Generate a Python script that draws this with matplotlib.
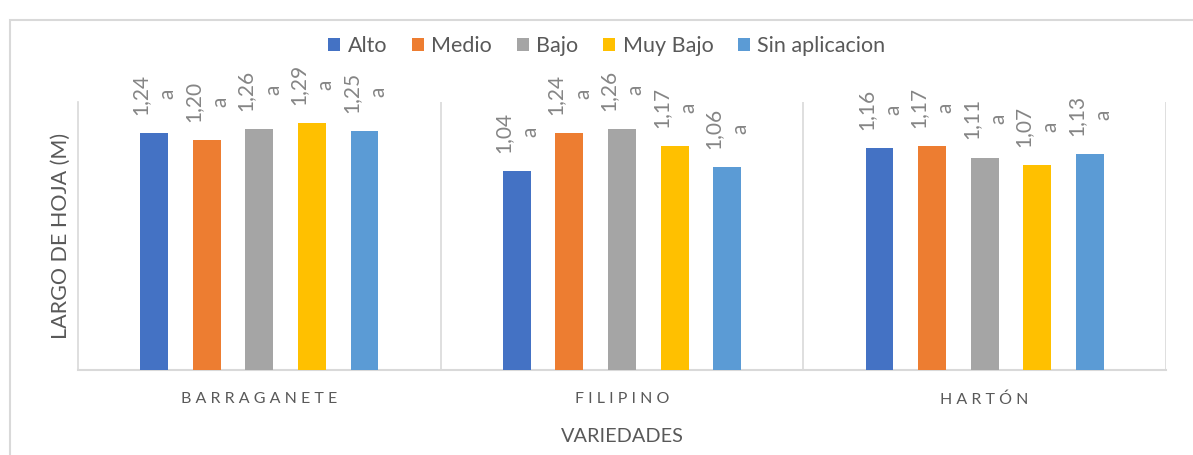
import matplotlib
matplotlib.use("Agg")
import matplotlib.pyplot as plt
import numpy as np
from matplotlib.patches import Rectangle

plt.rcParams['font.family'] = ['Lato', 'DejaVu Sans']

categories = ["BARRAGANETE", "FILIPINO", "HARTÓN"]
series_names = ["Alto", "Medio", "Bajo", "Muy Bajo", "Sin aplicacion"]
alto = [1.24, 1.04, 1.16]
medio = [1.20, 1.24, 1.17]
bajo = [1.26, 1.26, 1.11]
muy_bajo = [1.29, 1.17, 1.07]
sin_aplicacion = [1.25, 1.06, 1.13]
letters = ["a", "a", "a"]
colors = ["#4472C4", "#ED7D31", "#A5A5A5", "#FFC000", "#5B9BD5"]

series = [alto, medio, bajo, muy_bajo, sin_aplicacion]

W, H = 1193, 455
fig = plt.figure(figsize=(W / 100, H / 100), dpi=100)
ax = fig.add_axes([78 / W, (H - 370) / H, (1166 - 78) / W, (370 - 102) / H])

# outer chart border
fig.patches.append(Rectangle((10 / W, -0.05), 1.2, (H - 20) / H + 0.05,
                             transform=fig.transFigure, fill=False,
                             edgecolor="#D9D9D9", linewidth=1.5))

x = np.arange(len(categories))
step = 0.145
width = 0.077
for i, (name, vals, c) in enumerate(zip(series_names, series, colors)):
    pos = x + (i - 2) * step
    ax.bar(pos, vals, width=width, color=c, label=name, zorder=3)
    for p, v, l in zip(pos, vals, letters):
        ax.annotate(f"{v:.2f}".replace(".", ",") + "\n" + l, (p, v),
                    xytext=(0, 13), textcoords="offset points",
                    rotation=90, ha="center", va="bottom",
                    multialignment="center", fontsize=15,
                    color="#858585", linespacing=1.45)

ax.set_xlim(-0.5, 2.5)
ax.set_ylim(0, 1.4)
ax.set_yticks([])
ax.set_xticks(x)
ax.set_xticklabels([" ".join(c) for c in categories], fontsize=11.5,
                   color="#595959")
ax.tick_params(axis="x", length=0, pad=16)
for b in [0.5, 1.5, 2.5]:
    ax.axvline(b, color="#D9D9D9", linewidth=1.2, zorder=1)
for s in ["top", "right"]:
    ax.spines[s].set_visible(False)
ax.spines["left"].set_color("#D9D9D9")
ax.spines["bottom"].set_color("#D9D9D9")
ax.spines["left"].set_linewidth(1.2)
ax.spines["bottom"].set_linewidth(1.5)

ax.set_ylabel("LARGO DE HOJA (M)", fontsize=15.5, color="#595959", labelpad=5)
ax.set_xlabel("VARIEDADES", fontsize=14.3, color="#595959", labelpad=15)

leg = fig.legend(loc="center", bbox_to_anchor=(607 / W, (H - 46) / H), ncol=5,
                 frameon=False, fontsize=15.5, handlelength=0.55, handleheight=0.55,
                 handletextpad=0.35, columnspacing=1.15, labelcolor="#595959")

fig.savefig("out.png", dpi=100)
